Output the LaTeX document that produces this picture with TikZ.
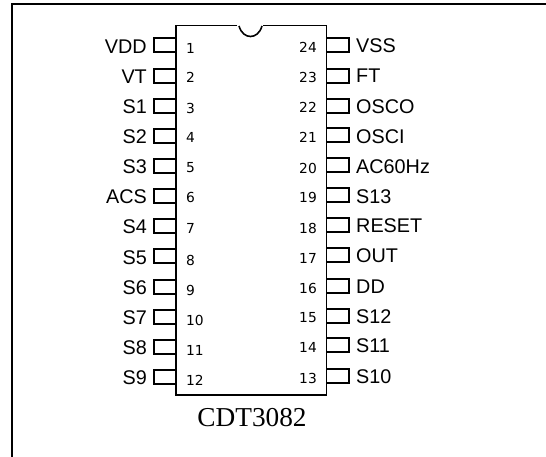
\documentclass[tikz,border=0pt]{standalone}
\usepackage{fontspec}
\setmainfont{Liberation Sans}
\newfontfamily\numfont{DejaVu Sans}
\newfontfamily\titlefont{Liberation Serif}
\tikzset{
  frameline/.style={draw=black,line width=2pt},
  chipline/.style={draw=black,line width=1.6pt},
  pinbox/.style={draw=black,line width=1.5pt},
  pinlabel/.style={inner sep=0pt,font=\fontsize{19.8}{20}\selectfont},
  pinnum/.style={inner sep=0pt,font=\numfont\fontsize{13.8}{15}\selectfont},
  title/.style={inner sep=0pt,font=\titlefont\fontsize{27.3}{30}\selectfont}
}
\begin{document}
\begin{tikzpicture}[x=1pt,y=-1pt]
\useasboundingbox (0,0) rectangle (546,457);
\draw[frameline] (12,457) -- (12,4) -- (546,4);
\draw[chipline] (237,25.5) -- (176,25.5) -- (176,395) -- (326.5,395) -- (326.5,25.5) -- (263,25.5);
\draw[chipline] (239,26) .. controls (243,40) and (258,40) .. (262,26);
% left pins: number/label/top y/number y/label y
\foreach \n/\t/\y/\ny/\ly in {
 1/VDD/38/48/47, 2/VT/69/77/77, 3/S1/99/108/107, 4/S2/129/137/137, 5/S3/159/168/167, 6/ACS/189/197/197,
 7/S4/219/228/227, 8/S5/249/260/258, 9/S6/280/290/288, 10/S7/310/320/318, 11/S8/340/350/348, 12/S9/370/380/378}{
  \draw[pinbox] (176,\y) -- (154,\y) -- (154,\y+14) -- (176,\y+14);
  \node[pinnum,anchor=west] (n\n) at (186,\ny) {\n};
  \node[pinlabel,anchor=east] (l\n) at (147,\ly) {\t};
}
% right pins
\foreach \n/\t/\y/\ny/\ly in {
 24/VSS/38/47/46, 23/FT/69/77/76, 22/OSCO/99/107/107, 21/OSCI/128/137/137, 20/AC60Hz/158/168/167, 19/S13/188/197/197,
 18/RESET/218/228/226, 17/OUT/248/258/256, 16/DD/279/288/287, 15/S12/309/318/317, 14/S11/338/347/346, 13/S10/369/378/377}{
  \draw[pinbox] (326.5,\y) -- (349,\y) -- (349,\y+14) -- (326.5,\y+14);
  \node[pinnum,anchor=east] (n\n) at (317,\ny) {\n};
  \node[pinlabel,anchor=west] (l\n) at (356,\ly) {\t};
}
\node[title,anchor=center] (chipname) at (252,418) {CDT3082};
\end{tikzpicture}
\end{document}
